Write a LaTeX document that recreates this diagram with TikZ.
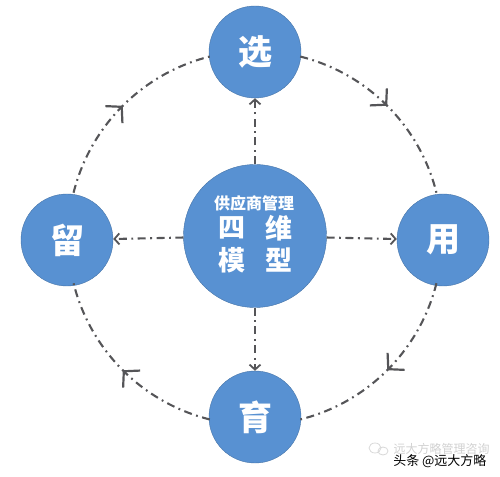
\documentclass[tikz,border=0pt]{standalone}
\usepackage{fontspec}
\newfontfamily\cjk{Noto Sans CJK SC}
\usetikzlibrary{arrows.meta,decorations.markings}
\definecolor{cblue}{RGB}{88,145,210}
\definecolor{lgray}{RGB}{85,85,88}
\begin{document}
\begin{tikzpicture}[x=1pt,y=1pt,
  bigc/.style={circle,fill=cblue,draw=cblue!80!black,line width=0.4pt,minimum size=92pt,inner sep=0pt,text=white,font=\cjk\bfseries\fontsize{34}{36}\selectfont},
  hub/.style={circle,fill=cblue,draw=cblue!80!black,line width=0.4pt,minimum size=143pt,inner sep=0pt,text=white},
  dd/.style={draw=lgray,line width=2.1pt,dash pattern=on 8pt off 4.5pt on 1.8pt off 4.5pt},
  spoke/.style={dd,-{Straight Barb[length=5pt,width=11pt,line width=1.8pt]}},
  ring/.style={dd,postaction={decorate},decoration={markings,mark=at position 0.5 with {\arrow{Straight Barb[length=11pt,width=24pt,line width=2.2pt]}}}}
]
\useasboundingbox (0,0) rectangle (500,476);
\coordinate (o) at (255,238);
\node[hub] (c) at (255,240) {};
\node[text=white,font=\cjk\bfseries\fontsize{16}{18}\selectfont] (t1) at (254,273) {供应商管理};
\node[text=white,font=\cjk\bfseries\fontsize{27}{29}\selectfont] (t2) at (232,248) {四};
\node[text=white,font=\cjk\bfseries\fontsize{27}{29}\selectfont] (t3) at (279,248) {维};
\node[text=white,font=\cjk\bfseries\fontsize{27}{29}\selectfont] (t4) at (232,216) {模};
\node[text=white,font=\cjk\bfseries\fontsize{27}{29}\selectfont] (t5) at (279,216) {型};
\node[bigc] (top) at (255,424) {选};
\node[bigc] (left) at (67,236) {留};
\node[bigc] (right) at (443,236) {用};
\node[bigc] (bot) at (255,59) {育};
\draw[spoke] (c) -- (top);
\draw[spoke] (c) -- (left);
\draw[spoke] (c) -- (right);
\draw[spoke] (c) -- (bot);
\path (o) ++(166:187) coordinate (a1);
\path (o) ++(76:187) coordinate (a2);
\path (o) ++(-14:187) coordinate (a3);
\path (o) ++(-104:187) coordinate (a4);
\draw[ring] (a1) arc[start angle=166,end angle=104,radius=187];
\draw[ring] (a2) arc[start angle=76,end angle=14,radius=187];
\draw[ring] (a3) arc[start angle=-14,end angle=-76,radius=187];
\draw[ring] (a4) arc[start angle=-104,end angle=-166,radius=187];
% watermark
\node[text=black!18,font=\cjk\fontsize{12}{14}\selectfont,anchor=west] (w1) at (390,27) {远大方略管理咨询};
\draw[black!15,line width=0.8pt] (375,28) ellipse (6pt and 5pt);
\draw[black!15,line width=0.8pt] (383,25) ellipse (5pt and 4pt);
\node[text=black,font=\cjk\fontsize{13}{15}\selectfont,anchor=east] (w2) at (490,15) {头条 @远大方略};
\end{tikzpicture}
\end{document}
